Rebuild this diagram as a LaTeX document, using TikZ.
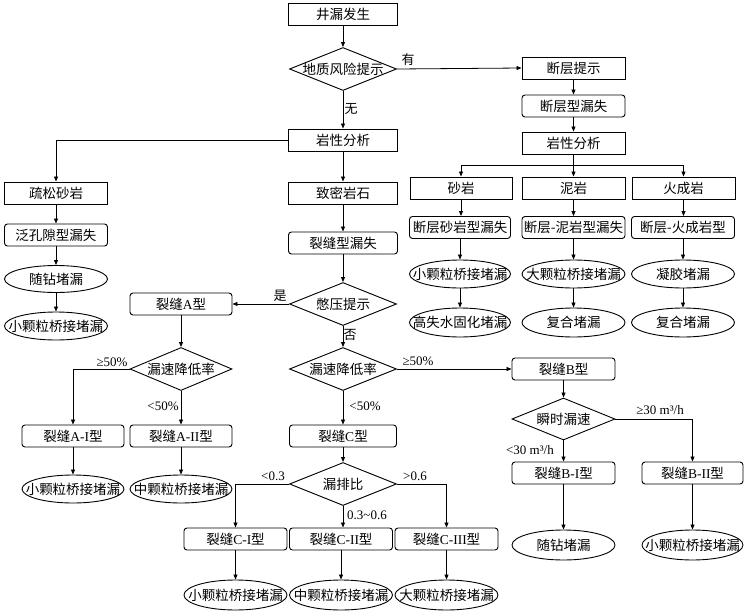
\documentclass[tikz,border=0pt]{standalone}
\usepackage{fontspec}
\setmainfont{Liberation Serif}
\newfontfamily\cjk{Noto Sans CJK SC}
\usetikzlibrary{shapes.geometric,arrows.meta}
\begin{document}
\begin{tikzpicture}[x=1pt,y=-1pt,
 box/.style={draw, line width=0.9pt, minimum width=103pt, minimum height=22pt, inner sep=0pt, font=\fontsize{13.5}{14}\cjk},
 rbox/.style={box, rounded corners=3pt},
 dia/.style={draw, diamond, line width=0.9pt, minimum width=107pt, minimum height=43pt, inner sep=0pt},
 ell/.style={draw, ellipse, line width=0.9pt, minimum width=103pt, minimum height=28pt, inner sep=0pt},
 txt/.style={inner sep=0pt, font=\fontsize{13.5}{14}\cjk},
 lab/.style={inner sep=0pt, font=\fontsize{13}{14}\selectfont},
 clab/.style={inner sep=0pt, font=\fontsize{13}{14}\cjk},
 arr/.style={line width=0.8pt, -{Triangle[length=5pt,width=4pt]}},
 ln/.style={line width=0.8pt}]
\useasboundingbox (0,0) rectangle (748,616);

% main column
\node[box, minimum width=109pt] (start) at (343,14) {井漏发生};
\node[dia] (d1) at (343,69) {};
\node[txt] (d1t) at (d1) {地质风险提示};
\node[box, minimum width=109pt] (lith) at (343,140) {岩性分析};
\node[box, minimum width=109pt] (dense) at (343,193) {致密岩石};
\node[rbox, minimum width=109pt] (frac) at (343,243) {裂缝型漏失};
\node[dia] (d2) at (343,304) {};
\node[txt] (d2t) at (d2) {憋压提示};
\node[dia] (d3) at (343,369) {};
\node[txt] (d3t) at (d3) {漏速降低率};
\node[rbox, minimum width=107pt] (C) at (343,436) {裂缝{\rmfamily C}型};
\node[dia] (d5) at (343,484) {};
\node[txt] (d5t) at (d5) {漏排比};
\node[rbox] (C1) at (235.5,539) {裂缝{\rmfamily C-I}型};
\node[rbox] (C2) at (341,539) {裂缝{\rmfamily C-II}型};
\node[rbox] (C3) at (446.5,539) {裂缝{\rmfamily C-III}型};
\node[ell, minimum height=30pt] (eC1) at (235.5,595) {};
\node[txt] (eC1t) at (eC1) {小颗粒桥接堵漏};
\node[ell, minimum height=30pt] (eC2) at (341,595) {};
\node[txt] (eC2t) at (eC2) {中颗粒桥接堵漏};
\node[ell, minimum height=30pt] (eC3) at (446.5,595) {};
\node[txt] (eC3t) at (eC3) {大颗粒桥接堵漏};

% left column
\node[box] (loose) at (56,193) {疏松砂岩};
\node[rbox] (pore) at (56,235) {泛孔隙型漏失};
\node[ell, minimum height=27pt] (eL1) at (56,279) {};
\node[txt] (eL1t) at (eL1) {随钻堵漏};
\node[ell] (eL2) at (56,326) {};
\node[txt] (eL2t) at (eL2) {小颗粒桥接堵漏};

% A branch
\node[rbox, minimum width=102pt] (A) at (181,304) {裂缝{\rmfamily A}型};
\node[dia, minimum width=102pt] (d4) at (181,369) {};
\node[txt] (d4t) at (d4) {漏速降低率};
\node[rbox, minimum width=102pt] (A1) at (73,436) {裂缝{\rmfamily A-I}型};
\node[rbox, minimum width=102pt] (A2) at (181,436) {裂缝{\rmfamily A-II}型};
\node[ell, minimum width=102pt] (eA1) at (73,489) {};
\node[txt] (eA1t) at (eA1) {小颗粒桥接堵漏};
\node[ell, minimum width=102pt] (eA2) at (181,489) {};
\node[txt] (eA2t) at (eA2) {中颗粒桥接堵漏};

% B branch
\node[rbox] (B) at (563.5,369) {裂缝{\rmfamily B}型};
\node[dia, minimum width=103pt, minimum height=42pt] (d6) at (563.5,419) {};
\node[txt] (d6t) at (d6) {瞬时漏速};
\node[rbox] (B1) at (563.5,473) {裂缝{\rmfamily B-I}型};
\node[rbox, minimum width=101pt] (B2) at (692.5,473) {裂缝{\rmfamily B-II}型};
\node[ell, minimum height=30pt] (eB1) at (563.5,545) {};
\node[txt] (eB1t) at (eB1) {随钻堵漏};
\node[ell, minimum width=101pt, minimum height=30pt] (eB2) at (692.5,545) {};
\node[txt] (eB2t) at (eB2) {小颗粒桥接堵漏};

% fault branch
\node[box] (fault) at (573.5,68) {断层提示};
\node[rbox] (flt) at (573.5,106) {断层型漏失};
\node[box] (lith2) at (573.5,143) {岩性分析};
\coordinate (j) at (573.5,165);
\node[box, minimum width=102pt] (sand) at (461,188) {砂岩};
\node[box] (mud) at (573.5,188) {泥岩};
\node[box] (ign) at (683.5,188) {火成岩};
\node[rbox, minimum width=101pt] (s1) at (460,227.5) {断层砂岩型漏失};
\node[rbox] (m1) at (573.5,227.5) {断层-泥岩型漏失};
\node[rbox] (i1) at (683,227.5) {断层-火成岩型};
\node[ell, minimum width=101pt] (s2) at (460,274) {};
\node[txt] (s2t) at (s2) {小颗粒桥接堵漏};
\node[ell] (m2) at (573.5,274) {};
\node[txt] (m2t) at (m2) {大颗粒桥接堵漏};
\node[ell] (i2) at (683,274) {};
\node[txt] (i2t) at (i2) {凝胶堵漏};
\node[ell, minimum width=101pt, minimum height=29pt] (s3) at (460,322.5) {};
\node[txt] (s3t) at (s3) {高失水固化堵漏};
\node[ell, minimum height=29pt] (m3) at (573.5,322.5) {};
\node[txt] (m3t) at (m3) {复合堵漏};
\node[ell, minimum height=29pt] (i3) at (683,322.5) {};
\node[txt] (i3t) at (i3) {复合堵漏};

% connectors main
\draw[arr] (start) -- (d1);
\draw[arr] (d1.east) -- (fault.west);
\draw[arr] (d1.south) -- (lith.north);
\draw[arr] (lith.west) -| (loose.north);
\draw[arr] (lith.south) -- (dense.north);
\draw[arr] (dense.south) -- (frac.north);
\draw[arr] (frac.south) -- (d2.north);
\draw[arr] (d2.west) -- (A.east);
\draw[arr] (d2.south) -- (d3.north);
\draw[arr] (d3.east) -- (B.west);
\draw[arr] (d3.south) -- (C.north);
\draw[arr] (C.south) -- (d5.north);
\draw[arr] (d5.west) -| (C1.north);
\draw[arr] (d5.south) -- (d5.south |- C2.north);
\draw[arr] (d5.east) -| (C3.north);
\draw[arr] (C1.south) -- (eC1.north);
\draw[arr] (C2.south) -- (eC2.north);
\draw[arr] (C3.south) -- (eC3.north);
% left
\draw[arr] (loose.south) -- (pore.north);
\draw[arr] (pore.south) -- (eL1.north);
\draw[arr] (eL1.south) -- (eL2.north);
% A
\draw[arr] (A.south) -- (d4.north);
\draw[arr] (d4.west) -| (A1.north);
\draw[arr] (d4.south) -- (A2.north);
\draw[arr] (A1.south) -- (eA1.north);
\draw[arr] (A2.south) -- (eA2.north);
% B
\draw[arr] (B.south) -- (d6.north);
\draw[arr] (d6.south) -- (B1.north);
\draw[arr] (d6.east) -| (B2.north);
\draw[arr] (B1.south) -- (eB1.north);
\draw[arr] (B2.south) -- (eB2.north);
% fault
\draw[arr] (fault.south) -- (flt.north);
\draw[arr] (flt.south) -- (lith2.north);
\draw[ln] (lith2.south) -- (j);
\draw[arr] (j) -| (sand.north);
\draw[arr] (j) -- (mud.north);
\draw[arr] (j) -| (ign.north);
\draw[arr] (sand.south) -- (s1.north -| sand.south);
\draw[arr] (mud.south) -- (m1.north);
\draw[arr] (ign.south) -- (ign.south |- i1.north);
\draw[arr] (s1.south) -- (s2.north);
\draw[arr] (m1.south) -- (m2.north);
\draw[arr] (i1.south) -- (i2.north);
\draw[arr] (s2.south) -- (s3.north);
\draw[arr] (m2.south) -- (m3.north);
\draw[arr] (i2.south) -- (i3.north);

% labels
\node[clab] (Lyou) at (408,60) {有};
\node[clab] (Lwu) at (351,109) {无};
\node[clab] (Lshi) at (280,296) {是};
\node[clab] (Lfou) at (350,335) {否};
\node[lab] (L1) at (112,362) {≥50\%};
\node[lab] (L2) at (163,406) {<50\%};
\node[lab] (L3) at (365,406) {<50\%};
\node[lab] (L4) at (418,361) {≥50\%};
\node[lab] (L5) at (273,476) {<0.3};
\node[lab] (L6) at (415,476) {>0.6};
\node[lab] (L7) at (367,515) {0.3\textasciitilde0.6};
\node[lab] (L8) at (660,410) {≥30 m³/h};
\node[lab] (L9) at (530,450) {<30 m³/h};
\end{tikzpicture}
\end{document}
